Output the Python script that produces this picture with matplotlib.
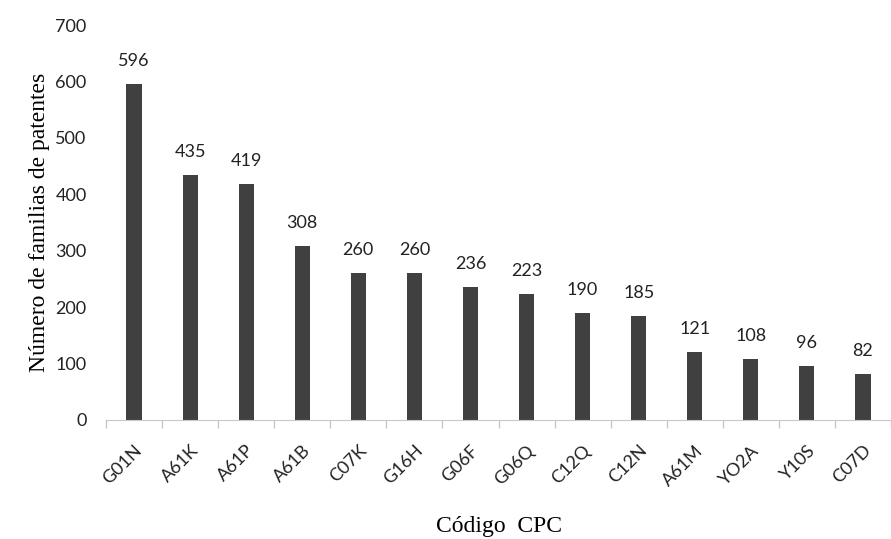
import numpy as np
import matplotlib
matplotlib.use("Agg")
import matplotlib.pyplot as plt

# Data
codes = ["G01N", "A61K", "A61P", "A61B", "C07K", "G16H", "G06F",
         "G06Q", "C12Q", "C12N", "A61M", "YO2A", "Y10S", "C07D"]
counts = [596, 435, 419, 308, 260, 260, 236, 223, 190, 185, 121, 108, 96, 82]
y_ticks = [0, 100, 200, 300, 400, 500, 600, 700]

sans = ["Lato", "DejaVu Sans"]
serif = ["Liberation Serif", "DejaVu Serif"]

fig = plt.figure(figsize=(8.91, 5.39), dpi=100)
ax = fig.add_axes([106/891, 1 - 420/539, 1 - 106/891, (420 - 25)/539])

x = np.arange(len(codes))
bars = ax.bar(x, counts, width=0.27, color="#404040")

for xi, v in zip(x, counts):
    ax.annotate(str(v), (xi, v), xytext=(0, 15), textcoords="offset pixels",
                ha="center", va="bottom", fontsize=13, family=sans, color="#222222")

ax.set_ylim(0, 700)
ax.set_xlim(-0.5, 13.25)
ax.set_yticks(y_ticks)
ax.set_yticklabels([str(t) for t in y_ticks], family=sans, fontsize=13, color="#222222")
ax.tick_params(axis="y", length=0, pad=14)

ax.set_xticks(x)
ax.set_xticklabels(codes, rotation=45, ha="right", rotation_mode="anchor",
                   family=sans, fontsize=13, color="#222222")
ax.tick_params(axis="x", length=0, pad=16)
ax.set_xticks(np.arange(-0.5, 14, 1), minor=True)
ax.tick_params(axis="x", which="minor", length=6, color="#c8c8c8", width=1)

for s in ["top", "right", "left"]:
    ax.spines[s].set_visible(False)
ax.spines["bottom"].set_color("#c8c8c8")

ax.set_ylabel("Número de familias de patentes", family=serif, fontsize=17, labelpad=4)
ax.set_xlabel("Código  CPC", family=serif, fontsize=17, labelpad=20)

fig.savefig("out.png", dpi=100)
